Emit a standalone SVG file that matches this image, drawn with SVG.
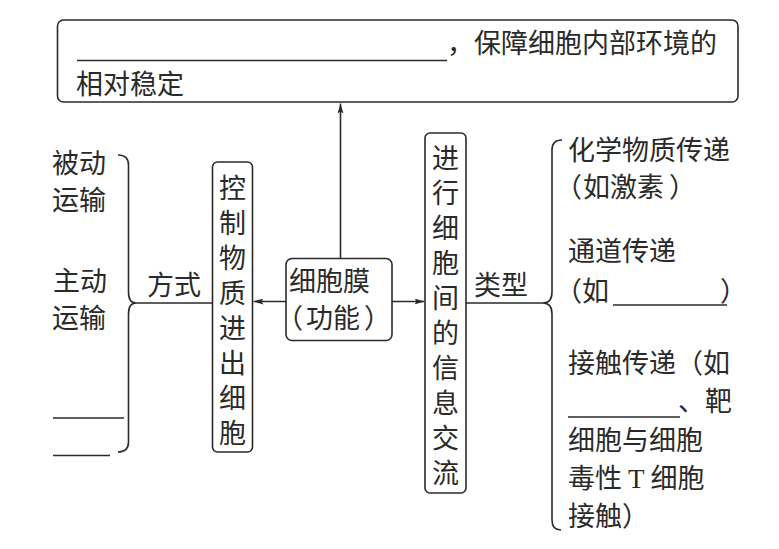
<svg xmlns="http://www.w3.org/2000/svg" width="779" height="549" viewBox="0 0 779 549">
<defs>
<marker id="arr" viewBox="0 0 10 6" refX="10" refY="3" markerWidth="10" markerHeight="6" markerUnits="userSpaceOnUse" orient="auto">
<path d="M0,0 L10,3 L0,6 L2,3 Z" fill="#2a2a2a"/>
</marker>
</defs>
<style>
text{font-family:"Noto Sans CJK SC","Noto Sans",sans-serif;font-size:27px;fill:#2a2a2a}
.box{fill:#fff;stroke:#2a2a2a;stroke-width:1.6}
.ln{fill:none;stroke:#2a2a2a;stroke-width:1.6}
.vt{writing-mode:vertical-rl;letter-spacing:8px}
.tt{font-family:"Liberation Serif",serif}
</style>
<rect width="779" height="549" fill="#fff"/>
<g id="connectors">
<line class="ln" x1="340.5" y1="258" x2="340.5" y2="103.5" marker-end="url(#arr)"/>
<line class="ln" x1="286" y1="301.5" x2="253.5" y2="301.5" marker-end="url(#arr)"/>
<line class="ln" x1="392" y1="301.5" x2="424.5" y2="301.5" marker-end="url(#arr)"/>
<line class="ln" x1="136" y1="303" x2="212" y2="303"/>
<line class="ln" x1="466" y1="303" x2="543" y2="303"/>
<path class="ln" d="M118,155 Q128.5,155 128.5,165 L128.5,292 Q128.5,303 136,303 Q128.5,303 128.5,314 L128.5,442 Q128.5,452 118,452"/>
<path class="ln" d="M562,140 Q552,140 552,150 L552,292 Q552,303 543,303 Q552,303 552,314 L552,520 Q552,530 561,530"/>
<text x="147" y="295">方式</text>
<text x="474" y="295">类型</text>
</g>
<g id="goal">
<rect class="box" x="57.5" y="20" width="680.5" height="82" rx="6"/>
<line class="ln" x1="77" y1="60.5" x2="447" y2="60.5"/>
<text x="447" y="53">，保障细胞内部环境的</text>
<text x="76" y="94">相对稳定</text>
</g>
<g id="membrane">
<rect class="box" x="286" y="258.5" width="106" height="82" rx="6"/>
<text x="289" y="291">细胞膜</text>
<text x="276" y="328">（<tspan dx="3">功能</tspan><tspan dx="4">）</tspan></text>
</g>
<g id="control">
<rect class="box" x="212.5" y="162" width="40" height="290" rx="5"/>
<text class="vt" x="232.5" y="174">控制物质进出细胞</text>
</g>
<g id="exchange">
<rect class="box" x="425" y="133" width="41" height="360" rx="5"/>
<text class="vt" x="445.5" y="144">进行细胞间的信息交流</text>
</g>
<g id="methods">
<text x="52" y="173">被动</text>
<text x="52" y="210">运输</text>
<text x="53" y="291">主动</text>
<text x="52" y="328">运输</text>
<line class="ln" x1="53" y1="418" x2="124" y2="418"/>
<line class="ln" x1="53" y1="455.5" x2="110" y2="455.5"/>
</g>
<g id="types">
<text x="568" y="160">化学物质传递</text>
<text x="555" y="197">（<tspan dx="1">如激素</tspan><tspan dx="5">）</tspan></text>
<text x="568" y="261">通道传递</text>
<text x="555" y="301">（如</text>
<line class="ln" x1="613" y1="305" x2="727" y2="305"/>
<text x="720" y="301">）</text>
<text x="568" y="373">接触传递（如</text>
<line class="ln" x1="568" y1="417" x2="680" y2="417"/>
<text x="678" y="411">、靶</text>
<text x="568" y="450">细胞与细胞</text>
<text x="568" y="488">毒性 <tspan class="tt">T</tspan> 细胞</text>
<text x="568" y="526">接触）</text>
</g>
</svg>
